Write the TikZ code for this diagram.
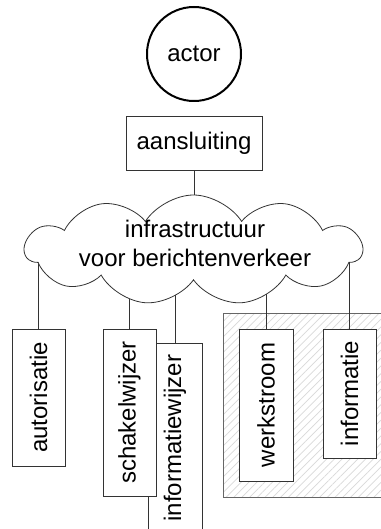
\documentclass[tikz,border=0pt]{standalone}
\usepackage{fontspec}
\setmainfont{Liberation Sans}
\usetikzlibrary{shapes.symbols,patterns.meta}
\pgfdeclarelayer{bg}
\pgfdeclarelayer{mid}
\pgfsetlayers{bg,mid,main}
\begin{document}
\begin{tikzpicture}[x=1pt,y=-1pt, font=\fontsize{24}{29}\selectfont,
  box/.style={draw=black!80, line width=0.8pt, fill=white, inner sep=0pt},
  vbox/.style={box, rotate=90},
  conn/.style={draw=black!80, line width=0.8pt}]
\useasboundingbox (0,0) rectangle (380,529);
\begin{pgfonlayer}{bg}
\fill[white] (0,0) rectangle (380,529);
\draw[draw=black!60, line width=0.8pt, pattern={Lines[angle=45,distance=5.5pt,line width=0.7pt]}, pattern color=black!15] (223,313) rectangle (400,497);
\end{pgfonlayer}

\node[draw, circle, line width=2pt, minimum size=94, inner sep=0pt] (actor) at (194,54) {actor};
\node[box, minimum width=136, minimum height=54] (aansluiting) at (194,143) {aansluiting};

\node[cloud, draw=black!80, line width=0.8pt, fill=white, cloud puffs=11, cloud puff arc=115, aspect=3.1, minimum width=337, minimum height=110, inner sep=0pt] (cloud) at (193.5,250) {};
\node[align=center] (cloudtext) at (195,243) {infrastructuur\\voor berichtenverkeer};

\node[vbox, minimum width=137, minimum height=53] (autorisatie) at (38.5,397.5) {autorisatie};
\node[vbox, minimum width=190, minimum height=54] (informatiewijzer) at (175,438) {informatiewijzer};
\node[vbox, minimum width=167, minimum height=53] (schakelwijzer) at (129.5,412.5) {schakelwijzer};
\node[vbox, minimum width=152, minimum height=54] (werkstroom) at (266,405) {werkstroom};
\node[vbox, minimum width=129, minimum height=53] (informatie) at (349.5,393.5) {informatie};

\begin{pgfonlayer}{mid}
\draw[conn] (aansluiting.south) -- (aansluiting.south |- cloud.center);
\foreach \n in {autorisatie,schakelwijzer,informatiewijzer,werkstroom,informatie}
  \draw[conn] (\n.east) -- (\n.east |- cloud.center);
\end{pgfonlayer}
\end{tikzpicture}
\end{document}
